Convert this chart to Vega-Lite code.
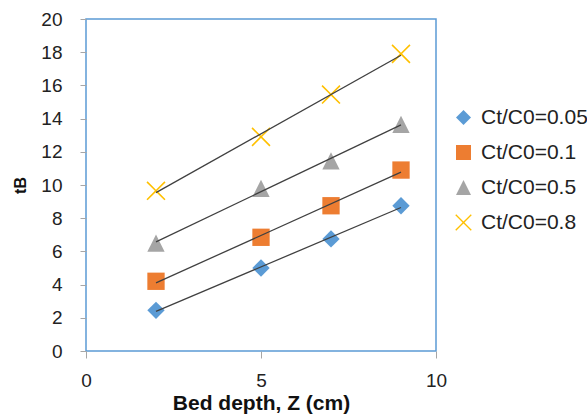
{
  "$schema": "https://vega.github.io/schema/vega-lite/v6.json",
  "width": 350,
  "height": 332,
  "autosize": {"type": "none"},
  "padding": {"left": 86, "top": 19, "right": 151, "bottom": 67},
  "background": "white",
  "config": {
    "font": "Liberation Sans",
    "view": {"stroke": "#5B9BD5", "strokeWidth": 1.5}
  },
  "data": {
    "values": [
      {"z": 2, "t": 2.45, "series": "Ct/C0=0.05"},
      {"z": 5, "t": 5.0, "series": "Ct/C0=0.05"},
      {"z": 7, "t": 6.75, "series": "Ct/C0=0.05"},
      {"z": 9, "t": 8.75, "series": "Ct/C0=0.05"},
      {"z": 2, "t": 4.2, "series": "Ct/C0=0.1"},
      {"z": 5, "t": 6.85, "series": "Ct/C0=0.1"},
      {"z": 7, "t": 8.75, "series": "Ct/C0=0.1"},
      {"z": 9, "t": 10.9, "series": "Ct/C0=0.1"},
      {"z": 2, "t": 6.5, "series": "Ct/C0=0.5"},
      {"z": 5, "t": 9.8, "series": "Ct/C0=0.5"},
      {"z": 7, "t": 11.45, "series": "Ct/C0=0.5"},
      {"z": 9, "t": 13.65, "series": "Ct/C0=0.5"},
      {"z": 2, "t": 9.65, "series": "Ct/C0=0.8"},
      {"z": 5, "t": 12.9, "series": "Ct/C0=0.8"},
      {"z": 7, "t": 15.45, "series": "Ct/C0=0.8"},
      {"z": 9, "t": 17.9, "series": "Ct/C0=0.8"}
    ]
  },
  "encoding": {
    "x": {
      "field": "z", "type": "quantitative",
      "scale": {"domain": [0, 10], "nice": false},
      "axis": {
        "values": [0, 5, 10], "title": "Bed depth, Z (cm)", "grid": false,
        "domain": false, "tickColor": "#A6A6A6", "tickSize": 7, "tickWidth": 1,
        "labelFontSize": 19, "labelColor": "#222222", "labelPadding": 13,
        "labelFlush": false,
        "titleFontSize": 21, "titleFontWeight": "bold", "titleColor": "#111111", "titlePadding": 2
      }
    },
    "y": {
      "field": "t", "type": "quantitative",
      "scale": {"domain": [0, 20], "nice": false},
      "axis": {
        "values": [0, 2, 4, 6, 8, 10, 12, 14, 16, 18, 20], "title": "tB", "grid": false,
        "domain": false, "tickColor": "#A6A6A6", "tickSize": 6, "tickWidth": 1,
        "labelFontSize": 19, "labelColor": "#222222", "labelPadding": 18,
        "titleFontSize": 16, "titleFontWeight": "bold", "titleColor": "#111111",
        "titleX": -66, "titleY": 166, "titleAngle": -90, "titleBaseline": "middle", "titleAlign": "center"
      }
    }
  },
  "layer": [
    {
      "mark": {"type": "point", "filled": true, "opacity": 1, "size": 300},
      "encoding": {
        "color": {
          "field": "series", "type": "nominal",
          "scale": {
            "domain": ["Ct/C0=0.05", "Ct/C0=0.1", "Ct/C0=0.5", "Ct/C0=0.8"],
            "range": ["#5B9BD5", "#ED7D31", "#A5A5A5", "#FFC000"]
          },
          "legend": {
            "title": null, "orient": "none", "legendX": 367, "legendY": 88,
            "padding": 0, "labelFontSize": 21, "labelColor": "#222222",
            "symbolSize": 225, "rowPadding": 13, "labelOffset": 7, "symbolStrokeWidth": 0
          }
        },
        "shape": {
          "field": "series", "type": "nominal",
          "scale": {
            "domain": ["Ct/C0=0.05", "Ct/C0=0.1", "Ct/C0=0.5", "Ct/C0=0.8"],
            "range": [
              "diamond",
              "square",
              "M0,-1L1,1L-1,1Z",
              "M-1.1,-0.97L-0.97,-1.1L0,-0.13L0.97,-1.1L1.1,-0.97L0.13,0L1.1,0.97L0.97,1.1L0,0.13L-0.97,1.1L-1.1,0.97L-0.13,0Z"
            ]
          },
          "legend": {
            "title": null, "orient": "none", "legendX": 367, "legendY": 88,
            "padding": 0, "labelFontSize": 21, "labelColor": "#222222",
            "symbolSize": 225, "rowPadding": 13, "labelOffset": 7, "symbolStrokeWidth": 0
          }
        }
      }
    },
    {
      "transform": [
        {"regression": "t", "on": "z", "groupby": ["series"]}
      ],
      "mark": {"type": "line", "color": "#404040", "strokeWidth": 1.3},
      "encoding": {"detail": {"field": "series", "type": "nominal"}}
    }
  ]
}
